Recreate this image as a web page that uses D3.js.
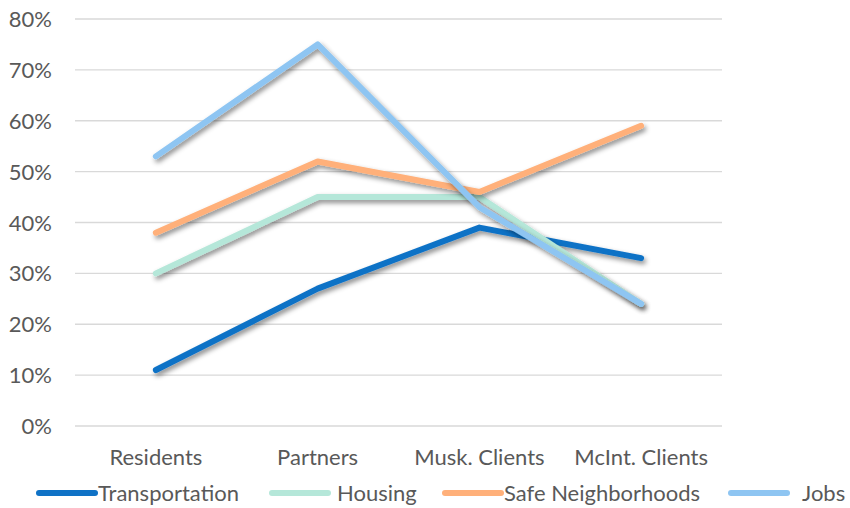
<!DOCTYPE html>
<html>
<head>
<meta charset="utf-8">
<script src="https://cdn.jsdelivr.net/npm/d3@7"></script>
<style>
  body { margin: 0; background: #fff; }
  text { font-family: Lato, "Open Sans", sans-serif; fill: #595959; }
</style>
</head>
<body>
<div id="chart"></div>
<script>
const categories = ["Residents", "Partners", "Musk. Clients", "McInt. Clients"];
const seriesNames = ["Transportation", "Housing", "Safe Neighborhoods", "Jobs"];
const transportation = [11, 27, 39, 33];
const housing = [30, 45, 45, 24];
const safeNeighborhoods = [38, 52, 46, 59];
const jobs = [53, 75, 43, 24];
const yTicks = [0, 10, 20, 30, 40, 50, 60, 70, 80];

const series = [
    { name: seriesNames[0], values: transportation, color: "#0F72C6" },
    { name: seriesNames[1], values: housing, color: "#B5E7D9" },
    { name: seriesNames[2], values: safeNeighborhoods, color: "#FFB07A" },
    { name: seriesNames[3], values: jobs, color: "#8EC5F2" }
];

const width = 850;
const height = 508;
const margin = { top: 19, right: 128, bottom: 82, left: 75 };

const svg = d3.select("#chart")
    .append("svg")
    .attr("width", width)
    .attr("height", height);

const defs = svg.append("defs");
const shadow = defs.append("filter")
    .attr("id", "shadow")
    .attr("x", "-20%").attr("y", "-20%")
    .attr("width", "140%").attr("height", "140%");
shadow.append("feDropShadow")
    .attr("dx", 2).attr("dy", 3)
    .attr("stdDeviation", 2.5)
    .attr("flood-color", "#000")
    .attr("flood-opacity", 0.45);

const x = d3.scaleBand()
    .domain(categories)
    .range([margin.left, width - margin.right]);

const y = d3.scaleLinear()
    .domain([0, 80])
    .range([height - margin.bottom, margin.top]);

// gridlines
svg.append("g")
    .selectAll("line")
    .data(yTicks)
    .enter()
    .append("line")
    .attr("x1", margin.left)
    .attr("x2", width - margin.right)
    .attr("y1", d => y(d))
    .attr("y2", d => y(d))
    .attr("stroke", "#D9D9D9")
    .attr("stroke-width", 1.3);

// y axis labels
svg.append("g")
    .selectAll("text")
    .data(yTicks)
    .enter()
    .append("text")
    .attr("x", 52)
    .attr("y", d => y(d) + 8)
    .attr("text-anchor", "end")
    .attr("font-size", "22px")
    .text(d => d + "%");

// x axis labels
svg.append("g")
    .selectAll("text")
    .data(categories)
    .enter()
    .append("text")
    .attr("x", d => x(d) + x.bandwidth() / 2)
    .attr("y", 465)
    .attr("text-anchor", "middle")
    .attr("font-size", "22px")
    .text(d => d);

const line = d3.line()
    .x((d, i) => x(categories[i]) + x.bandwidth() / 2)
    .y(d => y(d));

svg.append("g")
    .selectAll("path")
    .data(series)
    .enter()
    .append("path")
    .attr("d", d => line(d.values))
    .attr("fill", "none")
    .attr("stroke", d => d.color)
    .attr("stroke-width", 6)
    .attr("stroke-linecap", "round")
    .attr("stroke-linejoin", "round")
    .attr("filter", "url(#shadow)");

// legend
const legendX = [39, 272, 445, 731];
const legendTextX = [98, 337, 504, 802];
const legend = svg.append("g")
    .selectAll("g")
    .data(series)
    .enter()
    .append("g");

legend.append("line")
    .attr("x1", (d, i) => legendX[i])
    .attr("x2", (d, i) => legendX[i] + 56)
    .attr("y1", 493)
    .attr("y2", 493)
    .attr("stroke", d => d.color)
    .attr("stroke-width", 6)
    .attr("stroke-linecap", "round");

legend.append("text")
    .attr("x", (d, i) => legendTextX[i])
    .attr("y", 501)
    .attr("font-size", "22px")
    .text(d => d.name);
</script>
</body>
</html>
